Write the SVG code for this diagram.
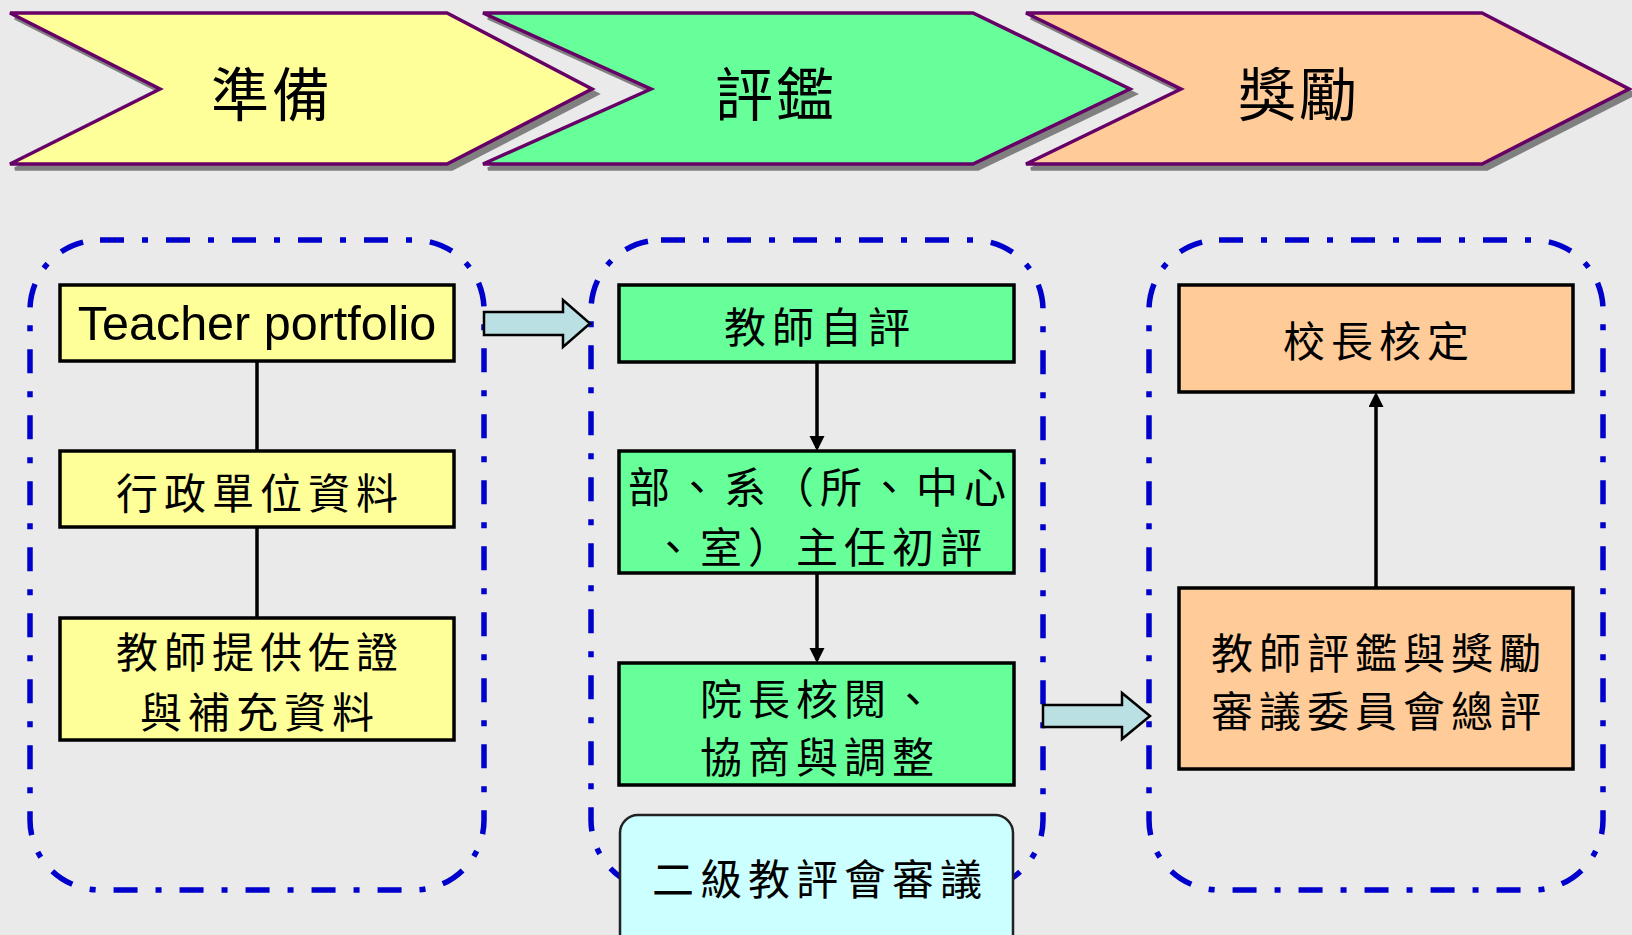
<svg xmlns="http://www.w3.org/2000/svg" width="1632" height="935" viewBox="0 0 1632 935">
<style>
.chev{stroke:#660066;stroke-width:3.5;stroke-linejoin:miter}
.shadow{fill:#808080;stroke:#808080;stroke-width:3.5}
.title{font-family:"Noto Sans CJK TC","Noto Sans CJK SC",sans-serif;font-size:58px;letter-spacing:3px;text-anchor:middle;fill:#000}
.group{fill:none;stroke:#0000CC;stroke-width:5.5;stroke-dasharray:24 18 6 18}
.box{stroke:#000;stroke-width:3.5}
.y{fill:#FFFF99}
.g{fill:#66FF99}
.o{fill:#FFCC99}
.t{font-family:"Noto Sans CJK TC","Noto Sans CJK SC",sans-serif;font-size:42px;letter-spacing:6px;text-anchor:middle;fill:#000}
.en{font-family:"Liberation Sans",Arial,sans-serif;font-size:48.5px;text-anchor:middle;fill:#000}
.line{stroke:#000;stroke-width:3.5;fill:none}
.block{fill:#BBE0E3;stroke:#000;stroke-width:2.5;stroke-linejoin:miter}
</style>
<defs>
<marker id="ah" markerWidth="16" markerHeight="16" refX="12" refY="7.5" orient="auto" markerUnits="userSpaceOnUse">
<path d="M0,0 L15,7.5 L0,15 z" fill="#000"/>
</marker>
</defs>
<rect x="0" y="0" width="1632" height="935" fill="#EAEAEA"/>

<g id="phase-prep">
<polygon class="shadow" transform="translate(5,5)" points="10,13 447,13 592,89 447,164 10,164 160,89"/>
<polygon class="chev y" points="10,13 447,13 592,89 447,164 10,164 160,89"/>
<text class="title" x="272" y="116">準備</text>
</g>
<g id="phase-eval">
<polygon class="shadow" transform="translate(5,5)" points="483,13 973,13 1130,89 973,164 483,164 651,89"/>
<polygon class="chev g" points="483,13 973,13 1130,89 973,164 483,164 651,89"/>
<text class="title" x="776" y="116">評鑑</text>
</g>
<g id="phase-reward">
<polygon class="shadow" transform="translate(5,5)" points="1026,13 1482,13 1629,89 1482,164 1026,164 1181,89"/>
<polygon class="chev o" points="1026,13 1482,13 1629,89 1482,164 1026,164 1181,89"/>
<text class="title" x="1299" y="116">獎勵</text>
</g>

<g id="group-prep"><rect class="group" x="30" y="240" width="454" height="650" rx="70" ry="70"/></g>
<g id="group-eval"><rect class="group" x="591" y="240" width="452" height="650" rx="70" ry="70"/></g>
<g id="group-reward"><rect class="group" x="1149" y="240" width="454" height="650" rx="70" ry="70"/></g>

<g id="connectors">
<line class="line" x1="257" y1="361" x2="257" y2="451"/>
<line class="line" x1="257" y1="527" x2="257" y2="618"/>
<line class="line" x1="817" y1="362" x2="817" y2="448" marker-end="url(#ah)"/>
<line class="line" x1="817" y1="573" x2="817" y2="660" marker-end="url(#ah)"/>
<line class="line" x1="1376" y1="588" x2="1376" y2="395" marker-end="url(#ah)"/>
<polygon class="block" points="484,312 563,312 563,300 590,323.5 563,347 563,335 484,335"/>
<polygon class="block" points="1043,705 1122,705 1122,693 1150,716 1122,739 1122,727 1043,727"/>
</g>

<g id="node-portfolio">
<rect class="box y" x="60" y="285" width="394" height="76"/>
<text class="en" x="257" y="340">Teacher portfolio</text>
</g>
<g id="node-admin">
<rect class="box y" x="60" y="451" width="394" height="76"/>
<text class="t" x="260" y="509">行政單位資料</text>
</g>
<g id="node-evidence">
<rect class="box y" x="60" y="618" width="394" height="122"/>
<text class="t" x="260" y="668">教師提供佐證</text>
<text class="t" x="260" y="728">與補充資料</text>
</g>

<g id="node-self">
<rect class="box g" x="619" y="285" width="395" height="77"/>
<text class="t" x="820" y="343">教師自評</text>
</g>
<g id="node-dept">
<rect class="box g" x="619" y="451" width="395" height="122"/>
<text class="t" x="820" y="503">部、系（所、中心</text>
<text class="t" x="820" y="563">、室）主任初評</text>
</g>
<g id="node-dean">
<rect class="box g" x="619" y="663" width="395" height="122"/>
<text class="t" x="820" y="715">院長核閱、</text>
<text class="t" x="820" y="773">協商與調整</text>
</g>
<g id="node-committee2">
<rect x="620" y="815" width="393" height="140" rx="18" ry="18" fill="#CCFFFF" stroke="#222" stroke-width="2.5"/>
<text class="t" x="820" y="895">二級教評會審議</text>
</g>

<g id="node-principal">
<rect class="box o" x="1179" y="285" width="394" height="107"/>
<text class="t" x="1379" y="357">校長核定</text>
</g>
<g id="node-committee">
<rect class="box o" x="1179" y="588" width="394" height="181"/>
<text class="t" x="1379" y="669">教師評鑑與獎勵</text>
<text class="t" x="1379" y="727">審議委員會總評</text>
</g>
</svg>
